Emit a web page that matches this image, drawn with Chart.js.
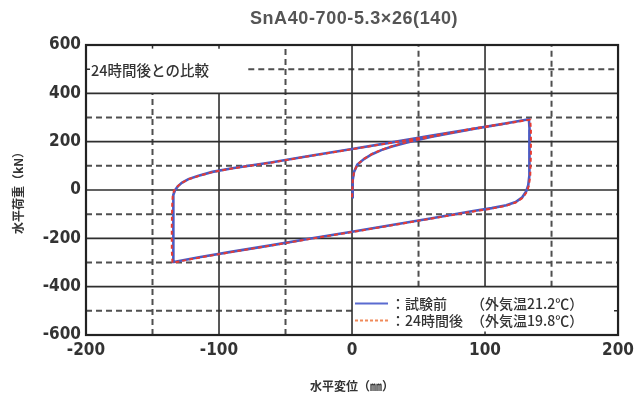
<!DOCTYPE html>
<html>
<head>
<meta charset="utf-8">
<script src="https://cdn.jsdelivr.net/npm/chart.js@4.4.1/dist/chart.umd.min.js"></script>
<style>
  html, body { margin: 0; padding: 0; background: #fff; }
  #wrap { width: 639px; height: 401px; position: relative; }
</style>
</head>
<body>
<div id="wrap"><canvas id="hys"></canvas></div>
<script>
// 試験前 (blue, solid)
const beforeX = [0, 0.5, 1.5, 4, 9, 15, 22, 30, 40, 50, 60, 75, 90, 110, 133,
  133.5, 133.5, 133.2, 132.5, 131, 128, 123, 116, 105, 90, 60, 30, 0, -30, -60, -90, -115, -134,
  -134.5, -134.5, -134.3, -134, -133, -131, -128, -123, -116, -105, -90, -60, -30, 0, 30, 60, 90, 115, 133];
const beforeY = [-30, 40, 75, 105, 128, 148, 165, 180, 195, 208, 220, 236, 252, 270, 293,
  250, 150, 60, 20, -5, -30, -50, -63, -75, -88, -117, -145, -173, -200, -228, -255, -278, -298,
  -250, -150, -60, -20, 0, 15, 30, 45, 58, 75, 90, 115, 143, 170, 197, 225, 252, 275, 293];

// 24時間後 (red, dashed)
const afterX = [0, 0.6, 1.6, 4.2, 9, 15, 22, 30, 40, 50, 60, 75, 90, 110, 134,
  134.5, 134.5, 134, 133, 131.5, 128.5, 123, 116, 105, 90, 60, 30, 0, -30, -60, -90, -115, -135,
  -135.5, -135.5, -135.2, -134.8, -133.8, -131.5, -128.5, -123, -116, -105, -90, -60, -30, 0, 30, 60, 90, 115, 134];
const afterY = [-30, 42, 77, 106, 129, 149, 166, 181, 196, 209, 221, 237, 253, 271, 291,
  248, 150, 60, 18, -7, -32, -52, -65, -77, -90, -118, -146, -174, -201, -229, -256, -280, -301,
  -250, -150, -60, -22, -2, 13, 28, 44, 57, 74, 89, 114, 142, 169, 196, 224, 251, 274, 291];

const xSolid = [-100, 0, 100];
const xDashed = [-150, -50, 50, 150];
const ySolid = [-400, -200, 0, 200, 400];
const yDashed = [-500, -300, -100, 100, 300, 500];

const chartTitle = "SnA40-700-5.3×26(140)";
const noteText = "24時間後との比較";
const legendNames = ["：試験前", "：24時間後"];
const legendTemps = ["（外気温21.2℃）", "（外気温19.8℃）"];
const xTitle = "水平変位（㎜）";
const yTitle = "水平荷重（kN）";

const blue = "#4a5bc4";
const red = "#e63b32";
const jp = "'Noto Sans CJK JP', 'Noto Sans', sans-serif";

function pts(xs, ys) {
  return xs.map((x, i) => ({ x: x, y: ys[i] }));
}

// grid with cleared boxes for the note (top left) and legend (bottom right)
const gridPlugin = {
  id: "grid",
  beforeDatasetsDraw(chart) {
    const { ctx, chartArea: a, scales } = chart;
    const X = (v) => scales.x.getPixelForValue(v);
    const Y = (v) => scales.y.getPixelForValue(v);
    ctx.save();
    ctx.lineCap = "butt";

    const vline = (x, y0, y1) => {
      ctx.beginPath();
      ctx.moveTo(X(x), Y(y0));
      ctx.lineTo(X(x), Y(y1));
      ctx.stroke();
    };
    const hline = (y, x0, x1) => {
      ctx.beginPath();
      ctx.moveTo(X(x0), Y(y));
      ctx.lineTo(X(x1), Y(y));
      ctx.stroke();
    };

    // dashed
    ctx.strokeStyle = "#4f4f4f";
    ctx.lineWidth = 2;
    ctx.setLineDash([6, 4]);
    xDashed.forEach((x) => {
      let y0 = -600, y1 = 600;
      if (x < -75) y1 = 400;
      if (x > 0) y0 = -400;
      vline(x, y0, y1);
    });
    yDashed.forEach((y) => {
      let x0 = -200, x1 = 200;
      if (y > 400) x0 = -78;
      if (y < -400) x1 = 0;
      hline(y, x0, x1);
    });

    // solid
    ctx.setLineDash([]);
    ctx.strokeStyle = "#2e2e2e";
    ctx.lineWidth = 1.6;
    xSolid.forEach((x) => {
      let y0 = -600, y1 = 600;
      if (x < -75) y1 = 400;
      if (x > 0) y0 = -400;
      vline(x, y0, y1);
    });
    ySolid.forEach((y) => hline(y, -200, 200));

    // small ticks on the frame
    ctx.lineWidth = 1.5;
    [-150, -100].forEach((x) => vline(x, 600, 585));
    [100].forEach((x) => vline(x, -600, -585));
    ctx.beginPath();
    ctx.moveTo(a.left, Y(500)); ctx.lineTo(a.left + 4, Y(500));
    ctx.moveTo(a.right, Y(-500)); ctx.lineTo(a.right - 4, Y(-500));
    ctx.stroke();

    // frame
    ctx.strokeStyle = "#222";
    ctx.lineWidth = 2.2;
    ctx.strokeRect(a.left, a.top, a.right - a.left, a.bottom - a.top);
    ctx.restore();
  },
  afterDraw(chart) {
    const { ctx, chartArea: a, scales } = chart;
    const X = (v) => scales.x.getPixelForValue(v);
    const Y = (v) => scales.y.getPixelForValue(v);
    ctx.save();

    // title
    ctx.fillStyle = "#555";
    ctx.font = "bold 18px 'Liberation Sans', Arial, sans-serif";
    ctx.letterSpacing = "0.6px";
    ctx.textAlign = "center";
    ctx.textBaseline = "middle";
    ctx.fillText(chartTitle, (a.left + a.right) / 2 + 2, 19);
    ctx.letterSpacing = "0px";

    // note
    ctx.fillStyle = "#333";
    ctx.font = "500 14.5px " + jp;
    ctx.textAlign = "left";
    ctx.fillText(noteText, a.left + 5, Y(500) + 1);

    // legend
    const lx = X(0) + 3;
    const rows = [Y(-470), Y(-540)];
    rows.forEach((ry, i) => {
      ctx.beginPath();
      ctx.lineWidth = 2;
      if (i === 0) {
        ctx.setLineDash([]);
        ctx.strokeStyle = "#5a6bd0";
      } else {
        ctx.setLineDash([3, 2]);
        ctx.strokeStyle = "#f08a5a";
      }
      ctx.moveTo(lx, ry);
      ctx.lineTo(lx + 33, ry);
      ctx.stroke();
      ctx.fillStyle = "#333";
      ctx.font = "500 14px " + jp;
      ctx.fillText(legendNames[i], lx + 36, ry);
      ctx.fillText(legendTemps[i], lx + 116, ry);
    });
    ctx.setLineDash([]);

    // axis titles
    ctx.font = "bold 12px " + jp;
    ctx.textAlign = "center";
    ctx.fillText(xTitle, (a.left + a.right) / 2, 386);
    ctx.translate(18, (a.top + a.bottom) / 2);
    ctx.rotate(-Math.PI / 2);
    ctx.fillText(yTitle, 0, 0);
    ctx.restore();
  }
};

const tickFont = {
  family: "'Liberation Sans Narrow', 'DejaVu Sans Condensed', 'Liberation Sans', sans-serif",
  size: 17,
  weight: "bold"
};

new Chart(document.getElementById("hys"), {
  type: "scatter",
  data: {
    datasets: [
      {
        label: "試験前",
        data: pts(beforeX, beforeY),
        showLine: true,
        borderColor: blue,
        borderWidth: 2.6,
        pointRadius: 0,
        order: 2
      },
      {
        label: "24時間後",
        data: pts(afterX, afterY),
        showLine: true,
        borderColor: red,
        borderWidth: 2,
        borderDash: [4, 3],
        pointRadius: 0,
        order: 1
      }
    ]
  },
  options: {
    responsive: true,
    maintainAspectRatio: false,
    animation: false,
    layout: { padding: { left: 0, top: 45, right: 17, bottom: 0 } },
    plugins: {
      legend: { display: false },
      title: { display: false },
      tooltip: { enabled: false }
    },
    scales: {
      x: {
        type: "linear",
        min: -200,
        max: 200,
        grid: { display: false, drawTicks: false },
        border: { display: false },
        ticks: { stepSize: 100, color: "#333", font: tickFont, padding: 5, maxRotation: 0 },
        afterFit: (s) => { s.height = 66; }
      },
      y: {
        type: "linear",
        min: -600,
        max: 600,
        grid: { display: false, drawTicks: false },
        border: { display: false },
        ticks: { stepSize: 200, color: "#333", font: tickFont, padding: 5 },
        afterFit: (s) => { s.width = 86; }
      }
    }
  },
  plugins: [gridPlugin]
});
</script>
</body>
</html>
